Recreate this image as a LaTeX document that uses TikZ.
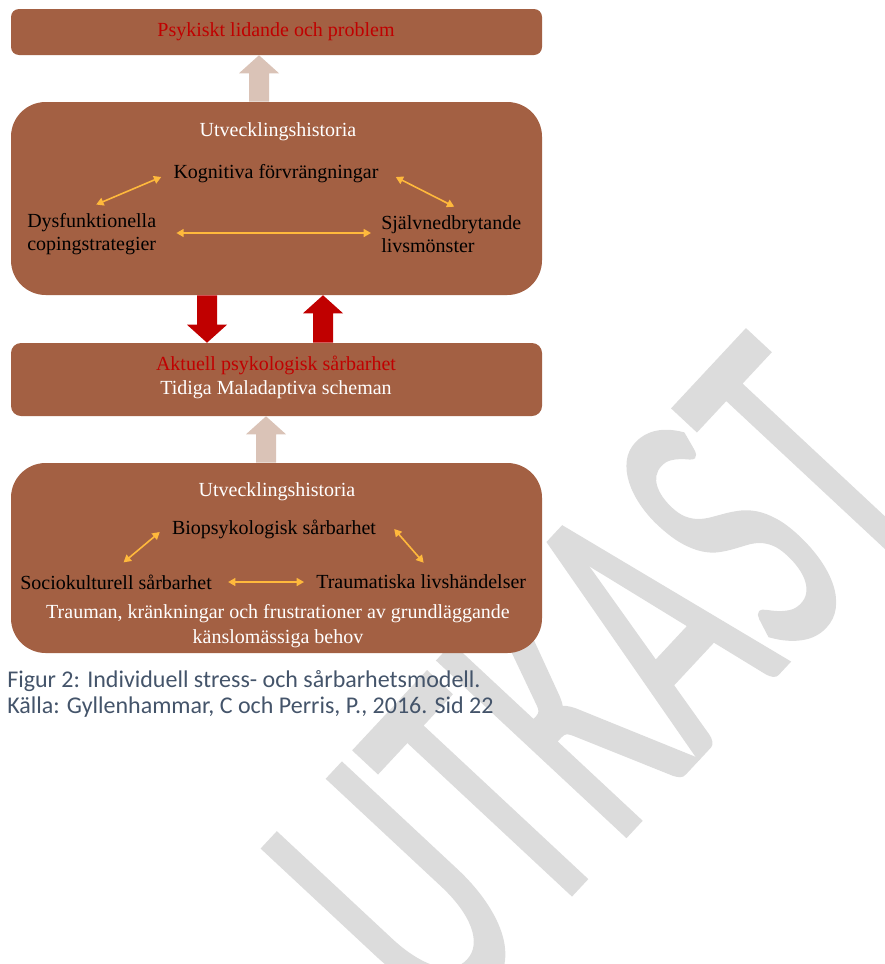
\documentclass[tikz,border=0pt]{standalone}
\usepackage{fontspec}
\setmainfont{Liberation Serif}
\newfontfamily\capfont{Carlito}
\newfontfamily\wmfont[FakeBold=1.5]{Carlito}
\usetikzlibrary{arrows.meta,calc}

\definecolor{boxbrown}{RGB}{163,96,67}
\definecolor{darkred}{RGB}{192,0,0}
\definecolor{paleclay}{RGB}{218,195,183}
\definecolor{amber}{RGB}{255,185,60}
\definecolor{capgrey}{RGB}{68,84,106}
\definecolor{wmgrey}{RGB}{220,220,220}

% broad vertical block arrow from a tail point (#2) to a tip point (#3)
\newcommand{\blockarrow}[3]{%
  \fill[#1] let \p1=(#2), \p2=(#3), \p3=($(#3)!13.5pt!(#2)$) in
    (\x1-7.5pt,\y1) -- (\x1-7.5pt,\y3) -- (\x1-15pt,\y3) -- (\x2,\y2)
    -- (\x1+15pt,\y3) -- (\x1+7.5pt,\y3) -- (\x1+7.5pt,\y1) -- cycle;}

\begin{document}
\begin{tikzpicture}[x=0.75pt,y=0.75pt,
  box/.style={fill=boxbrown, draw=none, inner sep=0pt},
  lbl/.style={inner sep=0pt, font=\fontsize{15}{17.25}\selectfont},
  light/.style={lbl, text=white},
  dark/.style={lbl, text=black, align=left},
  alert/.style={lbl, text=darkred},
  link/.style={draw=amber, line width=1.2pt,
    {Triangle[width=6pt,length=5.5pt]}-{Triangle[width=6pt,length=5.5pt]}},
  captiontext/.style={inner sep=0pt, text=capgrey, font=\capfont\fontsize{18}{22}\selectfont}
]
\useasboundingbox (0,0) rectangle (885,-964);

% draft watermark, behind everything else
\begin{scope}[shift={(594,-682)}, rotate=47, yscale=1.73]
  \node[transform shape, inner sep=0pt, text=wmgrey,
        font=\wmfont\fontsize{172}{172}\selectfont] (wm) at (0,0) {UTKAST};
\end{scope}

% the four layers
\node[box, rounded corners=6pt,  minimum width=531*0.75pt, minimum height=46*0.75pt]  (b1) at (276.5,-32) {};
\node[box, rounded corners=26pt, minimum width=531*0.75pt, minimum height=193*0.75pt] (b2) at (276.5,-198.5) {};
\node[box, rounded corners=7.5pt,minimum width=531*0.75pt, minimum height=73*0.75pt]  (b3) at (276.5,-379.5) {};
\node[box, rounded corners=26pt, minimum width=531*0.75pt, minimum height=190*0.75pt] (b4) at (276.5,-558) {};

% x positions of the block arrows
\coordinate (ax1) at (259,0);
\coordinate (ax2) at (207,0);
\coordinate (ax3) at (323,0);
\coordinate (ax4) at (266,0);

\blockarrow{paleclay}{b2.north -| ax1}{b1.south -| ax1}
\blockarrow{darkred}{b2.south -| ax2}{b3.north -| ax2}
\blockarrow{darkred}{b3.north -| ax3}{b2.south -| ax3}
\blockarrow{paleclay}{b4.north -| ax4}{b3.south -| ax4}

% top layer
\node[alert] (t1) at (276,-32) {Psykiskt lidande och problem};

% second layer
\node[light] (u1) at (278,-132) {Utvecklingshistoria};
\node[dark] (kog) at (276,-174) {Kognitiva förvrängningar};
\node[dark, anchor=west] (dys) at (27,-234.5) {Dysfunktionella\\copingstrategier};
\node[dark, anchor=west] (sja) at (381,-234.5) {Självnedbrytande\\livsmönster};

\draw[link] ([shift={(4.5,9)}]dys.north) -- ([shift={(-12,-3)}]kog.west);
\draw[link] ([shift={(17,-3)}]kog.east) -- ([shift={(3,9)}]sja.north);
\draw[link] ([shift={(20,1.5)}]dys.east) -- ([shift={(-10,1.5)}]sja.west);

% third layer
\node[alert] (akt) at (276,-365) {Aktuell psykologisk sårbarhet};
\node[light] (tid) at (276,-390) {Tidiga Maladaptiva scheman};

% bottom layer
\node[light] (u2) at (277,-492) {Utvecklingshistoria};
\node[dark] (bio) at (274,-529) {Biopsykologisk sårbarhet};
\node[dark, anchor=west] (soc) at (20,-582) {Sociokulturell sårbarhet};
\node[dark, anchor=west] (tra) at (316,-582) {Traumatiska livshändelser};
\node[light] (trm) at (278,-614) {Trauman, kränkningar och frustrationer av grundläggande};
\node[light] (kb) at (278,-639) {känslomässiga behov};

\draw[link] ([shift={(7.5,12)}]soc.north) -- ([shift={(-12,-3)}]bio.west);
\draw[link] ([shift={(18,0)}]bio.east) -- ([shift={(2.5,12)}]tra.north);
\draw[link] ([shift={(16,0)}]soc.east) -- ([shift={(-12,0)}]tra.west);

% caption
\node[captiontext, anchor=west] (c1) at (7,-681) {Figur 2: Individuell stress- och sårbarhetsmodell.};
\node[captiontext, anchor=west] (c2) at (7,-707) {Källa: Gyllenhammar, C och Perris, P., 2016. Sid 22};
\end{tikzpicture}
\end{document}
